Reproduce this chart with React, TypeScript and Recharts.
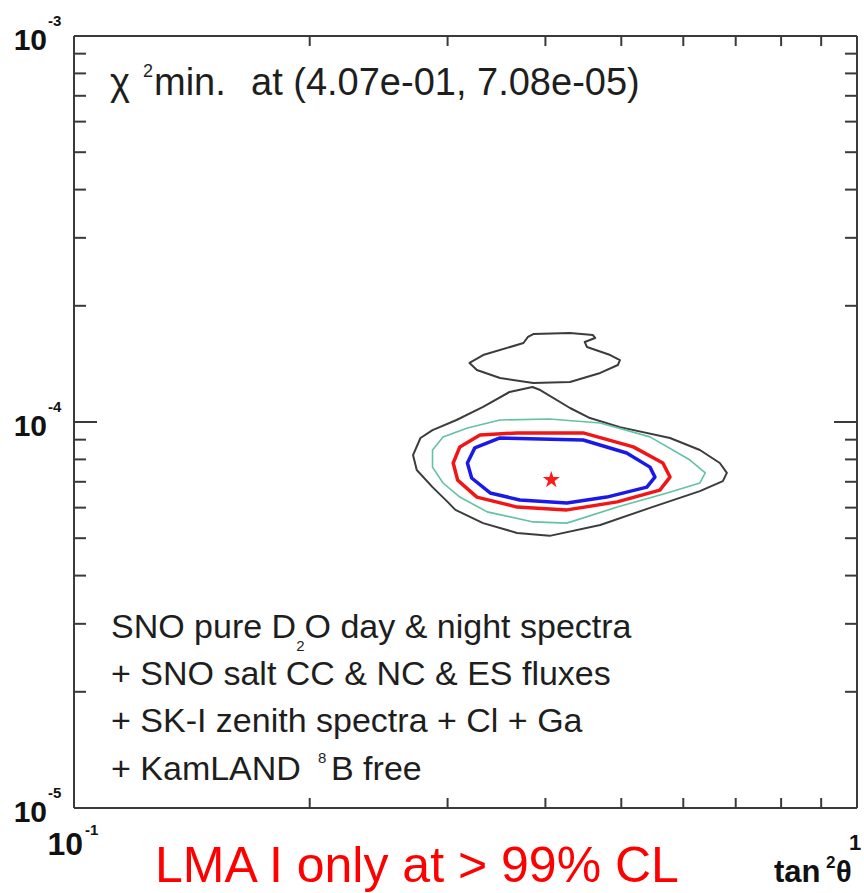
import React from 'react';
import { ComposedChart, Line, Scatter, XAxis, YAxis, Symbols } from 'recharts';

// axis ticks (log scales)
const xTicks = [0.1, 0.2, 0.3, 0.4, 0.5, 0.6, 0.7, 0.8, 0.9, 1];
const yTicks = [
  1e-5, 2e-5, 3e-5, 4e-5, 5e-5, 6e-5, 7e-5, 8e-5, 9e-5,
  1e-4, 2e-4, 3e-4, 4e-4, 5e-4, 6e-4, 7e-4, 8e-4, 9e-4,
  1e-3,
];

// best fit point [tan^2(theta), dm^2]
const bestFit = [0.407, 7.08e-5];

// contours, [tan^2(theta), dm^2] pairs
const blackMain = [
  [0.385, 1.232e-4], [0.36, 1.196e-4], [0.333, 1.094e-4], [0.308, 1.012e-4],
  [0.287, 9.53e-5], [0.277, 9.09e-5], [0.271, 8.21e-5], [0.274, 7.51e-5],
  [0.287, 6.78e-5], [0.3, 6.21e-5], [0.307, 5.92e-5], [0.333, 5.47e-5],
  [0.368, 5.16e-5], [0.405, 5.07e-5], [0.47, 5.41e-5], [0.544, 5.99e-5],
  [0.63, 6.62e-5], [0.674, 7.03e-5], [0.682, 7.38e-5], [0.668, 7.83e-5],
  [0.63, 8.46e-5], [0.577, 9.09e-5], [0.498, 9.7e-5], [0.456, 1.024e-4],
  [0.43, 1.087e-4], [0.394, 1.21e-4],
];
const blackIsland = [
  [0.386, 1.69e-4], [0.43, 1.7e-4], [0.46, 1.68e-4], [0.463, 1.651e-4],
  [0.449, 1.612e-4], [0.452, 1.564e-4], [0.484, 1.491e-4], [0.498, 1.447e-4],
  [0.495, 1.405e-4], [0.47, 1.34e-4], [0.43, 1.269e-4], [0.386, 1.262e-4],
  [0.35, 1.3e-4], [0.327, 1.364e-4], [0.32, 1.422e-4], [0.333, 1.491e-4],
  [0.375, 1.602e-4], [0.38, 1.661e-4],
];
const tealContour = [
  [0.35, 1.012e-4], [0.405, 1.018e-4], [0.47, 9.94e-5], [0.544, 9.15e-5],
  [0.612, 7.97e-5], [0.64, 7.38e-5], [0.63, 6.95e-5], [0.572, 6.55e-5],
  [0.494, 6.02e-5], [0.426, 5.47e-5], [0.386, 5.51e-5], [0.337, 5.85e-5],
  [0.311, 6.39e-5], [0.296, 6.95e-5], [0.287, 7.64e-5], [0.287, 8.46e-5],
  [0.296, 9.15e-5], [0.318, 9.65e-5],
];
const redContour = [
  [0.368, 9.37e-5], [0.447, 9.37e-5], [0.518, 8.62e-5], [0.565, 7.83e-5],
  [0.577, 7.2e-5], [0.56, 6.66e-5], [0.494, 6.21e-5], [0.426, 5.92e-5],
  [0.368, 6.02e-5], [0.327, 6.39e-5], [0.309, 7.07e-5], [0.305, 7.83e-5],
  [0.311, 8.62e-5], [0.33, 9.25e-5],
];
const blueContour = [
  [0.35, 9.09e-5], [0.447, 8.98e-5], [0.508, 8.31e-5], [0.544, 7.64e-5],
  [0.552, 7.2e-5], [0.539, 6.78e-5], [0.479, 6.39e-5], [0.426, 6.17e-5],
  [0.371, 6.28e-5], [0.34, 6.55e-5], [0.322, 7.16e-5], [0.318, 7.83e-5],
  [0.325, 8.57e-5],
];

const legendLines = [
  '+ SNO salt CC & NC & ES fluxes',
  '+ SK-I zenith spectra + Cl + Ga',
];

const FONT = '"Liberation Sans", Arial, Helvetica, sans-serif';
const FRAME = '#3a3a3a';

const toPoints = (arr: number[][]) => arr.map(([x, y]) => ({ x, y }));

const isDecade = (v: number) => Math.abs(Math.log10(v) - Math.round(Math.log10(v))) < 1e-6;
const exponent = (v: number) => Math.round(Math.log10(v));

// ROOT style 4.07e-01
const sci = (v: number) => {
  const [m, e] = v.toExponential(2).split('e');
  const n = parseInt(e, 10);
  return `${m}e${n < 0 ? '-' : '+'}${String(Math.abs(n)).padStart(2, '0')}`;
};

const BottomTick = (props: any) => {
  const { x, y, payload } = props;
  const v = payload.value;
  const major = isDecade(v);
  const e = exponent(v);
  return (
    <g>
      <line x1={x} y1={y} x2={x} y2={y - (major ? 20 : 10)} stroke={FRAME} strokeWidth={2} />
      {major && e === 0 && (
        <text x={x - 2} y={y + 42} textAnchor="middle" fontSize={22} fontWeight="bold" fontFamily={FONT} fill="#111">
          1
        </text>
      )}
      {major && e !== 0 && (
        <g fontFamily={FONT} fontWeight="bold" fill="#111">
          <text x={x + 9} y={y + 47} textAnchor="end" fontSize={32}>10</text>
          <text x={x + 11} y={y + 27} fontSize={15}>{e}</text>
        </g>
      )}
    </g>
  );
};

const TopTick = (props: any) => {
  const { x, y, payload } = props;
  const major = isDecade(payload.value);
  return <line x1={x} y1={y} x2={x} y2={y + (major ? 20 : 10)} stroke={FRAME} strokeWidth={2} />;
};

const LeftTick = (props: any) => {
  const { x, y, payload } = props;
  const v = payload.value;
  const major = isDecade(v);
  return (
    <g>
      <line x1={x} y1={y} x2={x + (major ? 23 : 12)} y2={y} stroke={FRAME} strokeWidth={2} />
      {major && (
        <g fontFamily={FONT} fontWeight="bold" fill="#111">
          <text x={x - 27} y={y + 14} textAnchor="end" fontSize={30}>10</text>
          <text x={x - 26} y={y - 10} fontSize={15}>{exponent(v)}</text>
        </g>
      )}
    </g>
  );
};

const RightTick = (props: any) => {
  const { x, y, payload } = props;
  const major = isDecade(payload.value);
  return <line x1={x} y1={y} x2={x - (major ? 23 : 12)} y2={y} stroke={FRAME} strokeWidth={2} />;
};

const StarShape = (props: any) => (
  <Symbols cx={props.cx} cy={props.cy} type="star" size={90} fill="#ff1a1a" />
);

const contours = [
  { key: 'blackMain', data: blackMain, stroke: '#3c3c3c', width: 2 },
  { key: 'blackIsland', data: blackIsland, stroke: '#3c3c3c', width: 2 },
  { key: 'teal', data: tealContour, stroke: '#62c2a2', width: 1.6 },
  { key: 'red', data: redContour, stroke: '#f21515', width: 3.5 },
  { key: 'blue', data: blueContour, stroke: '#1a1ae8', width: 3.5 },
];

export default function App() {
  const axisLine = { stroke: FRAME, strokeWidth: 2 };
  const common = {
    type: 'number' as const,
    scale: 'log' as const,
    allowDataOverflow: true,
    interval: 0 as const,
    tickSize: 0,
    tickMargin: 0,
    tickLine: false,
    axisLine,
  };
  return (
    <div style={{ position: 'absolute', left: 0, top: 0, width: 864, height: 893, background: '#fff' }}>
      <ComposedChart width={864} height={893} margin={{ top: 35, right: 6, bottom: 84, left: 73 }}>
        <XAxis {...common} xAxisId="bottom" dataKey="x" domain={[0.1, 1]} ticks={xTicks} height={1} tick={BottomTick} />
        <XAxis {...common} xAxisId="top" orientation="top" dataKey="x" domain={[0.1, 1]} ticks={xTicks} height={1} tick={TopTick} />
        <YAxis {...common} yAxisId="left" dataKey="y" domain={[1e-5, 1e-3]} ticks={yTicks} width={1} tick={LeftTick} />
        <YAxis {...common} yAxisId="right" orientation="right" dataKey="y" domain={[1e-5, 1e-3]} ticks={yTicks} width={1} tick={RightTick} />
        {contours.map((c) => (
          <Line
            key={c.key}
            xAxisId="bottom"
            yAxisId="left"
            data={toPoints(c.data)}
            dataKey="y"
            type="linearClosed"
            stroke={c.stroke}
            strokeWidth={c.width}
            strokeLinejoin="round"
            dot={false}
            activeDot={false}
            isAnimationActive={false}
          />
        ))}
        <Scatter
          xAxisId="bottom"
          yAxisId="left"
          data={[{ x: bestFit[0], y: bestFit[1] }]}
          shape={StarShape}
          isAnimationActive={false}
        />
      </ComposedChart>

      <svg
        width={864}
        height={893}
        style={{ position: 'absolute', left: 0, top: 0, pointerEvents: 'none' }}
        fontFamily={FONT}
        fill="#1e1e1e"
      >
        <text x={110} y={95} fontSize={38}>χ</text>
        <text x={143} y={77} fontSize={18}>2</text>
        <text x={154} y={95} fontSize={38}>min.</text>
        <text x={251} y={95} fontSize={38}>
          {`at (${sci(bestFit[0])}, ${sci(bestFit[1])})`}
        </text>

        <text x={111} y={638} fontSize={34}>
          SNO pure D<tspan fontSize={15} dy={13}>2</tspan>
          <tspan dy={-13}>O day &amp; night spectra</tspan>
        </text>
        {legendLines.map((t, i) => (
          <text key={t} x={111} y={685 + i * 47} fontSize={34}>{t}</text>
        ))}
        <text x={111} y={780} fontSize={34}>+ KamLAND</text>
        <text x={318} y={763} fontSize={15}>8</text>
        <text x={331} y={780} fontSize={34}>B free</text>

        <g fontWeight="bold" fill="#111">
          <text x={774} y={882} fontSize={31}>tan</text>
          <text x={826} y={868} fontSize={17}>2</text>
          <text x={836} y={882} fontSize={29}>θ</text>
        </g>

        <text x={155} y={882} fontSize={50} fill="#ff0000">LMA I only at &gt; 99% CL</text>
      </svg>
    </div>
  );
}
